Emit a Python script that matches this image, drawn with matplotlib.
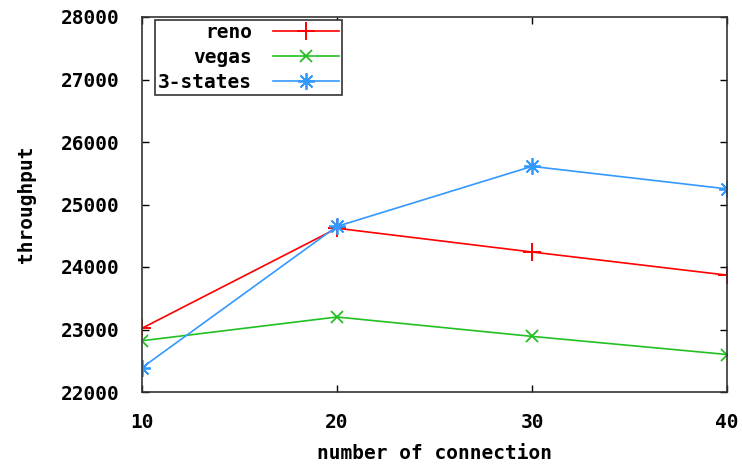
import matplotlib
matplotlib.use("Agg")
import matplotlib.pyplot as plt

connections = [10, 20, 30, 40]
reno = [23020, 24620, 24240, 23870]
vegas = [22820, 23200, 22890, 22600]
three_states = [22390, 24650, 25610, 25250]
yticks = [22000, 23000, 24000, 25000, 26000, 27000, 28000]

W, H = 742, 468
fig = plt.figure(figsize=(W/100, H/100), dpi=100)
ax = fig.add_axes([142/W, 1-392/H, (727-142)/W, (392-17)/H])

font = dict(family="DejaVu Sans Mono", weight="bold", size=14)

ax.plot(connections, reno, color="#ff0000", lw=1.2, marker="+", ms=13, mew=1.4, label="reno")
ax.plot(connections, vegas, color="#22c022", lw=1.2, marker="x", ms=9, mew=1.3, label="vegas")
ax.plot(connections, three_states, color="#3399ff", lw=1.2, marker=(8, 2, 0), ms=12, mew=1.3, label="3-states")

ax.set_xlim(10, 40)
ax.set_ylim(22000, 28000)
ax.set_xticks(connections)
ax.set_yticks(yticks)
ax.set_xticklabels([str(c) for c in connections], **font)
ax.set_yticklabels([str(t) for t in yticks], **font)
ax.tick_params(axis="y", direction="in", length=5, width=1, right=True, pad=16)
ax.tick_params(axis="x", direction="in", length=5, width=1, top=True, pad=15)
for s in ax.spines.values():
    s.set_linewidth(1.2)
    s.set_color("#333333")

ax.set_xlabel("number of connection", labelpad=9, **font)
ax.set_ylabel("throughput", labelpad=18, **font)

leg = ax.legend(loc="upper left", bbox_to_anchor=(13/585, 1-3/375), markerfirst=False,
                fancybox=False, framealpha=1, edgecolor="#333333",
                prop=dict(family="DejaVu Sans Mono", weight="bold", size=14),
                handlelength=3.4, borderpad=0.15, labelspacing=0.3, handletextpad=1.1,
                borderaxespad=0)
leg.get_frame().set_linewidth(1.2)
for t in leg.get_texts():
    t.set_ha("right")

fig.savefig("out.png", dpi=100)
